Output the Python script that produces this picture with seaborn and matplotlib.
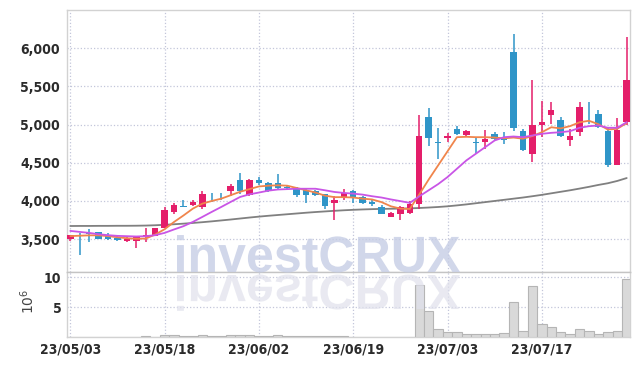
import matplotlib
matplotlib.use("Agg")
import matplotlib.pyplot as plt
import seaborn as sns
import numpy as np
from matplotlib import font_manager
from matplotlib.ticker import FuncFormatter
from matplotlib.textpath import TextPath
from matplotlib.patches import PathPatch
from matplotlib.font_manager import FontProperties
from matplotlib.transforms import Affine2D, IdentityTransform

# trading days 2023-05-03 .. 2023-07-28
dates = ["23/05/03", "23/05/04", "23/05/08", "23/05/09", "23/05/10", "23/05/11", "23/05/12",
         "23/05/15", "23/05/16", "23/05/17", "23/05/18", "23/05/19", "23/05/22", "23/05/23",
         "23/05/24", "23/05/25", "23/05/26", "23/05/30", "23/05/31", "23/06/01", "23/06/02",
         "23/06/05", "23/06/07", "23/06/08", "23/06/09", "23/06/12", "23/06/13", "23/06/14",
         "23/06/15", "23/06/16", "23/06/19", "23/06/20", "23/06/21", "23/06/22", "23/06/23",
         "23/06/26", "23/06/27", "23/06/28", "23/06/29", "23/06/30", "23/07/03", "23/07/04",
         "23/07/05", "23/07/06", "23/07/07", "23/07/10", "23/07/11", "23/07/12", "23/07/13",
         "23/07/14", "23/07/17", "23/07/18", "23/07/19", "23/07/20", "23/07/21", "23/07/24",
         "23/07/25", "23/07/26", "23/07/27", "23/07/28"]

opens = [3505, 3555, 3587, 3595, 3535, 3515, 3470, 3478, 3525, 3545,
         3650, 3850, 3940, 3945, 3925, 4070, 4070, 4130, 4270, 4075,
         4280, 4240, 4235, 4185, 4175, 4150, 4130, 4090, 3975, 4040,
         4125, 4050, 3990, 3920, 3790, 3825, 3845, 3955, 5105, 4775,
         4825, 4945, 4870, 4770, 4770, 4880, 4815, 5955, 4910, 4620,
         5000, 5130, 5055, 4800, 4900, 5145, 5140, 4920, 4465, 5030]
highs = [3555, 3575, 3627, 3600, 3575, 3535, 3525, 3545, 3640, 3650,
         3920, 3975, 4010, 4010, 4130, 4105, 4100, 4220, 4365, 4290,
         4315, 4250, 4355, 4215, 4185, 4160, 4140, 4095, 4065, 4160,
         4140, 4065, 4020, 3950, 3860, 3935, 3995, 5125, 5220, 4960,
         4890, 4985, 4935, 4835, 4930, 4905, 4905, 6185, 4940, 5585,
         5315, 5300, 5105, 4945, 5300, 5300, 5190, 4960, 5090, 6150]
lows = [3480, 3290, 3457, 3500, 3487, 3480, 3460, 3380, 3460, 3540,
        3640, 3835, 3920, 3935, 3900, 3990, 4010, 4070, 4095, 4060,
        4205, 4115, 4160, 4155, 4050, 3975, 4060, 3900, 3755, 4010,
        3975, 3960, 3935, 3830, 3790, 3750, 3835, 3890, 4725, 4555,
        4770, 4860, 4845, 4625, 4685, 4800, 4745, 4920, 4660, 4510,
        4835, 5010, 4840, 4720, 4855, 5010, 4960, 4445, 4465, 5000]
closes = [3550, 3545, 3565, 3505, 3505, 3490, 3500, 3530, 3550, 3640,
          3880, 3945, 3925, 3985, 4095, 4060, 4060, 4190, 4130, 4270,
          4240, 4130, 4175, 4165, 4075, 4075, 4075, 3935, 4010, 4110,
          4050, 3975, 3960, 3835, 3845, 3920, 3955, 4855, 4830, 4765,
          4855, 4880, 4910, 4760, 4805, 4815, 4800, 4960, 4670, 5000,
          5030, 5185, 4850, 4845, 5235, 5135, 4965, 4465, 4935, 5590]

ma_short = [3540, 3545, 3550, 3550, 3540, 3525, 3512, 3505, 3508, 3560,
            3630, 3725, 3810, 3900, 3965, 4000, 4030, 4075, 4120, 4155,
            4190, 4200, 4205, 4200, 4170, 4140, 4110, 4070, 4050, 4050,
            4045, 4030, 4020, 3985, 3930, 3900, 3895, 4085, 4280, 4465,
            4650, 4835, 4840, 4835, 4835, 4830, 4820, 4830, 4815, 4850,
            4900, 4965, 4950, 4980, 5030, 5050, 5005, 4935, 4945, 5020]
ma_mid = [3608, 3595, 3582, 3565, 3552, 3543, 3539, 3535, 3539, 3552,
          3582, 3627, 3670, 3726, 3791, 3857, 3921, 3987, 4052, 4087,
          4110, 4135, 4150, 4155, 4160, 4160, 4160, 4140, 4118, 4105,
          4096, 4083, 4062, 4045, 4020, 3998, 3975, 4060, 4140, 4220,
          4313, 4422, 4531, 4618, 4705, 4792, 4835, 4844, 4835, 4857,
          4879, 4892, 4900, 4914, 4958, 4979, 4988, 4958, 4958, 5031]
ma_long = [3672, 3673, 3673, 3674, 3674, 3675, 3675, 3676, 3678, 3682,
           3688, 3695, 3703, 3712, 3722, 3733, 3745, 3757, 3770, 3783,
           3795, 3806, 3816, 3826, 3836, 3846, 3855, 3863, 3871, 3878,
           3884, 3889, 3893, 3896, 3898, 3900, 3903, 3908, 3914, 3921,
           3930, 3942, 3955, 3970, 3985, 4000, 4015, 4030, 4045, 4062,
           4080, 4100, 4120, 4140, 4162, 4185, 4210, 4232, 4262, 4300]

# volume in millions of shares
volume = [0.03, 0.03, 0.03, 0.03, 0.03, 0.03, 0.03, 0.03, 0.15, 0.05,
          0.3, 0.3, 0.25, 0.2, 0.35, 0.15, 0.15, 0.3, 0.3, 0.3,
          0.25, 0.25, 0.4, 0.2, 0.15, 0.15, 0.2, 0.15, 0.15, 0.15,
          0.03, 0.03, 0.03, 0.03, 0.03, 0.03, 0.03, 8.8, 4.3, 1.3,
          0.9, 0.9, 0.55, 0.55, 0.55, 0.55, 0.7, 5.9, 1.0, 8.5,
          2.2, 1.7, 0.9, 0.55, 1.3, 1.05, 0.55, 0.9, 1.05, 9.8]

up_col = "#e41e6a"
down_col = "#2f95c8"
grid_col = "#c3c6da"
spine_col = "#d2d2d2"

sns.set_theme(style="white")
plt.rcParams["font.family"] = ["DejaVu Sans"]

# condensed face for the tick labels, if one is installed
label_fp = FontProperties(family="DejaVu Sans", stretch="condensed", weight="bold", size=10)
if "ondensed" not in font_manager.findfont(label_fp):
    label_fp = FontProperties(family=["Roboto", "DejaVu Sans"], weight="bold", size=9.5)

W, H = 639, 366
fig = plt.figure(figsize=(W / 100, H / 100), dpi=100)
ax = fig.add_axes([67 / W, 1 - 272 / H, (630 - 67) / W, (272 - 10) / H])
axv = fig.add_axes([67 / W, 1 - 337 / H, (630 - 67) / W, (337 - 272) / H], sharex=ax)

idx = np.arange(len(dates))
o = np.array(opens)
c = np.array(closes)
cols = [up_col if cc >= oo else down_col for oo, cc in zip(o, c)]

sns.lineplot(x=idx, y=ma_long, ax=ax, color="#808080", lw=1.3, zorder=2)
ax.vlines(idx, lows, highs, colors=cols, lw=1.1, zorder=3)
ax.bar(idx, np.abs(c - o), bottom=np.minimum(o, c), width=0.68, color=cols, linewidth=0, zorder=4)
sns.lineplot(x=idx, y=ma_short, ax=ax, color="#f0854c", lw=1.3, zorder=5)
sns.lineplot(x=idx, y=ma_mid, ax=ax, color="#c955e6", lw=1.3, zorder=5)

axv.bar(idx, volume, width=1.0, color="#d9d9d9", edgecolor="#b5b5b5", linewidth=0.8, zorder=3)

ax.set_xlim(-0.35, 59.35)
ax.set_ylim(3070, 6500)
ax.set_yticks([3500, 4000, 4500, 5000, 5500, 6000])
ax.yaxis.set_major_formatter(FuncFormatter(lambda v, p: f"{v:,.0f}"))
ax.set_xticks(idx[::10])
ax.tick_params(axis="x", labelbottom=False, length=0)
ax.tick_params(axis="y", length=0, pad=5, colors="#2b2b2b")

axv.set_ylim(0, 10.9)
axv.set_yticks([5, 10])
axv.set_yticklabels(["5", "10"])
axv.set_xticks(idx[::10])
axv.set_xticklabels(dates[::10])
axv.tick_params(length=0, pad=4, colors="#2b2b2b")
axv.set_ylabel(r"$10^6$", fontsize=10, color="#444444")
axv.yaxis.set_label_coords(-0.053, 0.55)

for a in (ax, axv):
    a.grid(True, ls=":", color=grid_col, lw=0.9, zorder=0)
    a.set_axisbelow(True)
    for lab in a.get_xticklabels() + a.get_yticklabels():
        lab.set_fontproperties(label_fp)
    for s in a.spines.values():
        s.set_color(spine_col)
        s.set_linewidth(1.0)
axv.spines["top"].set_color("#c4c4c4")

# watermark and its reflection
fp = FontProperties(family=["Liberation Sans", "DejaVu Sans"], weight="bold")
tp = TextPath((0, 0), "investCRUX", size=51, prop=fp)
ext = tp.get_extents()
sx = 283 / ext.width
x0 = 177 - ext.x0 * sx
main_tr = Affine2D().scale(sx, 1.0).translate(x0, H - 272)
refl_tr = Affine2D().scale(sx, -0.97).translate(x0, H - 275)
fig.add_artist(PathPatch(tp, transform=main_tr + IdentityTransform(), facecolor="#c6cde5",
                         edgecolor="none", alpha=0.8, zorder=10))
fig.add_artist(PathPatch(tp, transform=refl_tr + IdentityTransform(), facecolor="#e0e1ec",
                         edgecolor="none", alpha=0.7, zorder=10))

fig.savefig("out.png", dpi=100)
